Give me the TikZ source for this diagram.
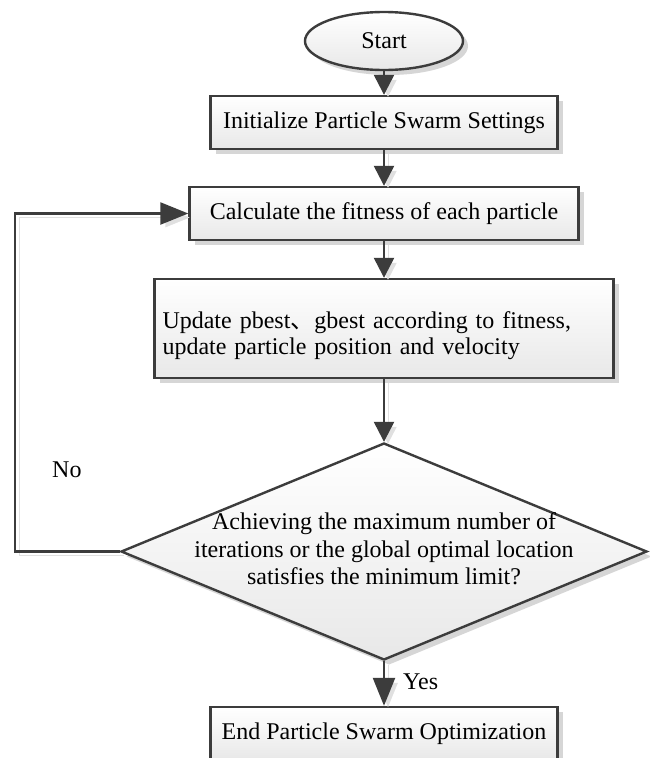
\documentclass[tikz,border=0pt]{standalone}
\usepackage{fontspec}
\setmainfont{Liberation Serif}
\newfontfamily\cjkfont{Noto Sans CJK SC}
\usetikzlibrary{shapes.geometric,shadows,arrows.meta}
\definecolor{lc}{HTML}{3C3C3C}
\tikzset{
  shadowed/.style={drop shadow={shadow xshift=5pt, shadow yshift=-5pt, fill=black!16, opacity=1}},
  box/.style={draw=lc, line width=2.4pt, top color=white, bottom color=black!9, shadowed,
    inner sep=0pt, minimum height=53pt},
  startnode/.style={ellipse, draw=lc, line width=2.4pt, top color=white, bottom color=black!9, shadowed,
    minimum width=158pt, minimum height=58pt, inner sep=0pt},
  decision/.style={diamond, draw=lc, line width=2.4pt, top color=white, bottom color=black!9, shadowed,
    minimum width=526pt, minimum height=217pt, inner sep=0pt},
  conn/.style={draw=lc, line width=2.4pt, -{Triangle[length=20pt,width=20pt]},
    preaction={draw=black!12, transform canvas={shift={(4pt,-4pt)}}}},
  longconn/.style={conn, -{Triangle[length=28pt,width=22pt]}},
  lbl/.style={anchor=west, inner sep=0pt}
}
\begin{document}
\begin{tikzpicture}[x=1pt,y=-1pt,font=\fontsize{24}{27.5}\selectfont]
\fill[white] (0,0) rectangle (649,758);
\useasboundingbox (0,0) rectangle (649,758);
\node[startnode] (start) at (384,41) {Start};
\node[box, minimum width=347pt] (init) at (384,122.5) {Initialize Particle Swarm Settings};
\node[box, minimum width=389pt] (calc) at (384,213.5) {Calculate the fitness of each particle};
\node[box, minimum width=459pt, minimum height=99pt, text width=443pt, align=left,
  font=\fontsize{24}{26}\selectfont] (upd) at (384,328.5)
  {\rule{0pt}{32pt}Update pbest{\cjkfont 、}gbest according to fitness,\\update particle position and velocity};
\node[decision] (dec) at (384,551.5) {};
\node[align=center, inner sep=0pt] (dectext) at (384,549)
  {Achieving the maximum number of\\iterations or the global optimal location\\satisfies the minimum limit?};
\node[box, minimum width=347pt] (end) at (384,733.5) {End Particle Swarm Optimization};
\node[lbl] (no) at (52,470) {No};
\node[lbl] (yes) at (403,682) {Yes};
\coordinate (lb) at (15,551.5);
\coordinate (lt) at (15,213.5);
\draw[conn] (start) -- (init);
\draw[conn] (init) -- (calc);
\draw[conn] (calc) -- (upd);
\draw[conn] (upd) -- (dec.north);
\draw[longconn] (dec.south) -- (end);
\draw[longconn] (dec.west) -- (lb) -- (lt) -- (calc.west);
\end{tikzpicture}
\end{document}
